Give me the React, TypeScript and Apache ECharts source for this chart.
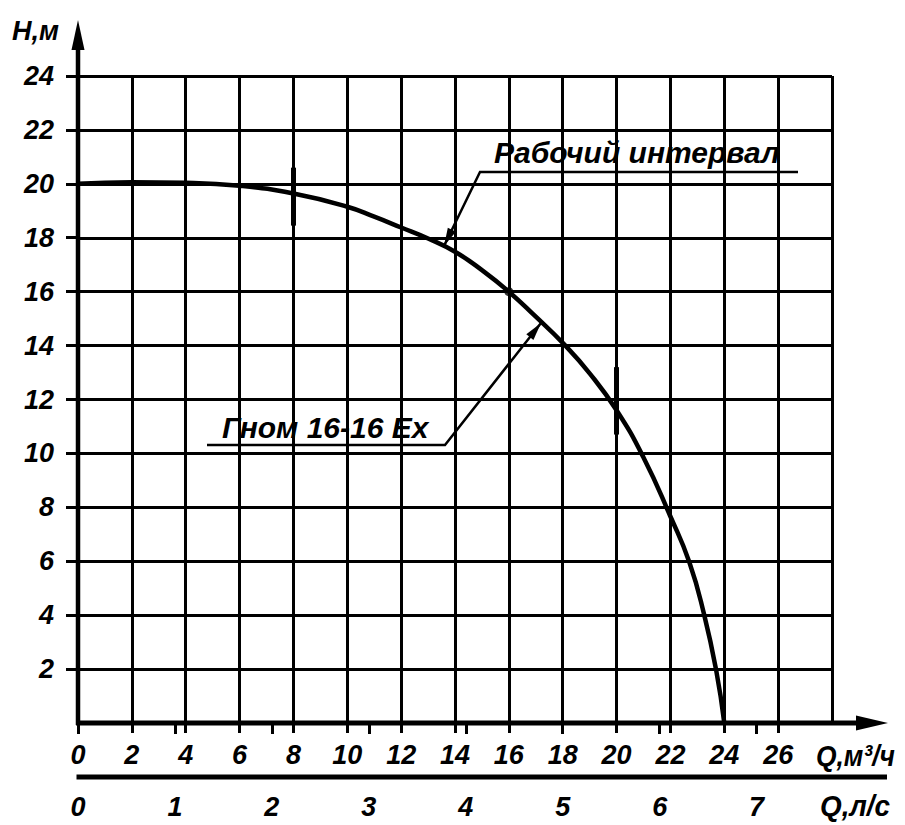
import React, { useEffect, useRef } from "react";
import * as echarts from "echarts";

// ---- data ----
const flowM3h = [0, 2, 4, 6, 8, 10, 11, 12, 13, 14, 15, 16, 17, 18, 19, 20, 21, 22, 22.7, 23.25, 23.7, 24];
const headM = [20.0, 20.06, 20.04, 19.93, 19.64, 19.15, 18.78, 18.38, 17.97, 17.48, 16.8, 16.0, 15.07, 14.1, 12.97, 11.6, 9.85, 7.66, 5.97, 4.03, 1.95, 0];
const workRangeQ = [8, 20];
const workRangeH = [
  [18.45, 20.6],
  [10.7, 13.2],
];
const nominalPoint = [16, 16];

// axis ranges / tick labels
const xGridMax = 28; // grid drawn 0..28 m3/h
const xLabelMax = 26; // labels 0..26 m3/h
const xStep = 2;
const yMax = 24;
const yLabelMin = 2;
const yStep = 2;
const lsMax = 7; // l/s labels 0..7
const lsStep = 1;
const M3H_PER_LS = 3.6;

const xAxisName = "Q,м³/ч";
const lsAxisName = "Q,л/с";
const yAxisName = "Н,м";
const workLabel = "Рабочий интервал";
const pumpLabel = "Гном 16-16 Ex";

// ---- layout ----
const W = 905;
const H = 825;
const GL = 78;
const GT = 76;
const GR = 832;
const GB = 723;
const PXX = (GR - GL) / xGridMax;
const PXY = (GB - GT) / yMax;
const LS_Y = 777;
const FONT = "'Liberation Sans Narrow', 'Arial Narrow', 'Liberation Sans', Arial, sans-serif";

const labelStyle = {
  color: "#000",
  fontFamily: FONT,
  fontWeight: "bold" as const,
  fontStyle: "italic" as const,
  fontSize: 27,
};

function arrowHead(tipX: number, tipY: number, fromX: number, fromY: number, len: number, half: number) {
  const dx = tipX - fromX;
  const dy = tipY - fromY;
  const d = Math.hypot(dx, dy);
  const ux = dx / d;
  const uy = dy / d;
  const bx = tipX - ux * len;
  const by = tipY - uy * len;
  return [
    [tipX, tipY],
    [bx - uy * half, by + ux * half],
    [bx + uy * half, by - ux * half],
  ];
}

export default function App() {
  const ref = useRef<HTMLDivElement>(null);
  useEffect(() => {
    if (!ref.current) return;
    const chart = echarts.init(ref.current, undefined, { renderer: "svg" });

    const black = "#000";
    const txt = (text: string, x: number, y: number, size: number, sx = 1) => ({
      type: "text",
      x,
      y,
      scaleX: sx,
      z: 10,
      style: {
        text,
        fill: black,
        fontFamily: FONT,
        fontWeight: "bold",
        fontStyle: "italic",
        fontSize: size,
        textAlign: "left",
        textVerticalAlign: "middle",
      },
    });

    const a1From = [480, 172];
    const a1Tip = [444, 246];
    const a2From = [445, 445];
    const a2Tip = [541, 323];

    const option: any = {
      animation: false,
      backgroundColor: "#fff",
      grid: [
        { left: GL, top: GT, width: GR - GL, height: GB - GT },
        { left: GL, top: GT, width: xLabelMax * PXX, height: GB - GT },
        { left: GL, top: GT, width: lsMax * M3H_PER_LS * PXX, height: GB - GT },
        { left: GL, top: GT, width: GR - GL, height: (yMax - yLabelMin) * PXY },
      ],
      xAxis: [
        {
          gridIndex: 0,
          type: "value",
          min: 0,
          max: xGridMax,
          interval: xStep,
          axisLine: { show: false },
          axisTick: { show: false },
          axisLabel: { show: false },
          splitLine: { show: true, lineStyle: { color: black, width: 3 } },
        },
        {
          gridIndex: 1,
          type: "value",
          min: 0,
          max: xLabelMax,
          interval: xStep,
          axisLine: { show: false },
          axisTick: { show: true, length: 10, lineStyle: { color: black, width: 3 } },
          axisLabel: { ...labelStyle, margin: 18 },
          splitLine: { show: false },
        },
        {
          gridIndex: 2,
          type: "value",
          min: 0,
          max: lsMax,
          interval: lsStep,
          offset: LS_Y - GB,
          axisLine: { show: false },
          axisTick: { show: true, length: 11, lineStyle: { color: black, width: 3 } },
          axisLabel: { ...labelStyle, margin: 16 },
          splitLine: { show: false },
        },
        { gridIndex: 3, type: "value", show: false, min: 0, max: xGridMax },
      ],
      yAxis: [
        {
          gridIndex: 0,
          type: "value",
          min: 0,
          max: yMax,
          interval: yStep,
          axisLine: { show: false },
          axisTick: { show: false },
          axisLabel: { show: false },
          splitLine: { show: true, lineStyle: { color: black, width: 3 } },
        },
        { gridIndex: 1, type: "value", show: false, min: 0, max: yMax },
        { gridIndex: 2, type: "value", show: false, min: 0, max: yMax },
        {
          gridIndex: 3,
          type: "value",
          min: yLabelMin,
          max: yMax,
          interval: yStep,
          axisLine: { show: false },
          axisTick: { show: true, length: 12, lineStyle: { color: black, width: 3 } },
          axisLabel: { ...labelStyle, margin: 24 },
          splitLine: { show: false },
        },
      ],
      series: [
        {
          type: "line",
          xAxisIndex: 0,
          yAxisIndex: 0,
          data: flowM3h.map((q, i) => [q, headM[i]]),
          showSymbol: false,
          smooth: 0.5,
          lineStyle: { color: black, width: 4.5 },
          z: 5,
          markLine: {
            silent: true,
            symbol: ["none", "none"],
            label: { show: false },
            lineStyle: { color: black, width: 5, type: "solid" },
            data: workRangeQ.map((q, i) => [
              { coord: [q, workRangeH[i][0]] },
              { coord: [q, workRangeH[i][1]] },
            ]),
          },
        },
        {
          type: "scatter",
          xAxisIndex: 0,
          yAxisIndex: 0,
          data: [nominalPoint],
          symbolSize: 9,
          itemStyle: { color: black },
          z: 6,
        },
      ],
      graphic: [
        // y axis
        { type: "line", z: 8, shape: { x1: GL, y1: GB + 2, x2: GL, y2: 48 }, style: { stroke: black, lineWidth: 4.5 } },
        { type: "polygon", z: 8, shape: { points: [[GL, 20], [GL - 6.5, 50], [GL + 6.5, 50]] }, style: { fill: black } },
        // x axis
        { type: "line", z: 8, shape: { x1: GL - 2, y1: GB, x2: 860, y2: GB }, style: { stroke: black, lineWidth: 5 } },
        { type: "polygon", z: 8, shape: { points: [[888, GB], [856, GB - 7.5], [856, GB + 7.5]] }, style: { fill: black } },
        // l/s axis
        { type: "line", z: 8, shape: { x1: GL - 1.5, y1: LS_Y, x2: 887, y2: LS_Y }, style: { stroke: black, lineWidth: 5 } },
        // axis names
        txt(yAxisName, 12, 31, 27),
        txt(xAxisName, 816, 755, 30, 0.88),
        txt(lsAxisName, 820, 806, 30, 0.93),
        // annotation: working interval
        txt(workLabel, 494, 152, 30),
        { type: "polyline", z: 8, shape: { points: [[798, 172], a1From, a1Tip] }, style: { stroke: black, lineWidth: 2.5, fill: null } },
        { type: "polygon", z: 8, shape: { points: arrowHead(a1Tip[0], a1Tip[1], a1From[0], a1From[1], 18, 4.5) }, style: { fill: black } },
        // annotation: pump name
        txt(pumpLabel, 222, 427, 30),
        { type: "polyline", z: 8, shape: { points: [[207, 445], a2From, a2Tip] }, style: { stroke: black, lineWidth: 2.5, fill: null } },
        { type: "polygon", z: 8, shape: { points: arrowHead(a2Tip[0], a2Tip[1], a2From[0], a2From[1], 18, 4.5) }, style: { fill: black } },
      ],
    };
    chart.setOption(option);
    return () => chart.dispose();
  }, []);
  return (
    <div
      ref={ref}
      style={{ position: "absolute", left: 0, top: 0, width: W, height: H, background: "#fff" }}
    />
  );
}
